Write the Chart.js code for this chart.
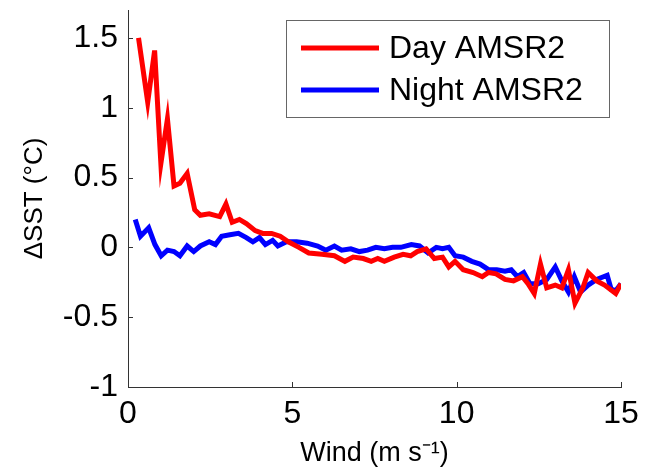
<!DOCTYPE html>
<html>
<head>
<meta charset="utf-8">
<script src="https://cdn.jsdelivr.net/npm/chart.js@4"></script>
<style>
  html, body { margin: 0; padding: 0; background: #fff; }
  #wrap { position: relative; width: 654px; height: 471px; }
</style>
</head>
<body>
<div id="wrap"><canvas id="sst-chart"></canvas></div>
<script>
/* Delta SST vs wind speed, day / night AMSR2 */
const xTicks = [0, 5, 10, 15];
const yTicks = [-1, -0.5, 0, 0.5, 1, 1.5];

const dayWind = [0.32, 0.6, 0.81, 1.0, 1.2, 1.4, 1.58, 1.8, 2.03, 2.2, 2.47, 2.79, 2.98, 3.17, 3.39, 3.6,
  3.87, 4.1, 4.37, 4.63, 4.88, 5.2, 5.5, 5.9, 6.28, 6.6, 6.85, 7.16, 7.4, 7.6, 7.8, 8.1, 8.37, 8.6,
  8.8, 9.07, 9.32, 9.57, 9.76, 9.95, 10.2, 10.5, 10.78, 10.97, 11.2, 11.47, 11.73, 12.0, 12.17, 12.36,
  12.55, 12.74, 13.0, 13.2, 13.4, 13.6, 13.84, 14.0, 14.26, 14.5, 14.84, 15.0];
const dayDelta = [1.5, 1.04, 1.41, 0.6, 0.92, 0.44, 0.46, 0.53, 0.27, 0.23, 0.24, 0.22, 0.31, 0.18, 0.2, 0.17,
  0.12, 0.1, 0.1, 0.08, 0.04, 0.0, -0.04, -0.05, -0.06, -0.1, -0.07, -0.08, -0.1, -0.08, -0.1, -0.07, -0.05, -0.06,
  -0.03, -0.01, -0.08, -0.07, -0.14, -0.1, -0.16, -0.18, -0.21, -0.18, -0.19, -0.23, -0.24, -0.21, -0.26, -0.33,
  -0.12, -0.29, -0.27, -0.29, -0.16, -0.4, -0.29, -0.18, -0.24, -0.27, -0.33, -0.26];

const nightWind = [0.22, 0.38, 0.63, 0.82, 1.01, 1.2, 1.4, 1.58, 1.8, 2.0, 2.2, 2.47, 2.66, 2.85, 3.1, 3.36,
  3.6, 3.8, 4.0, 4.18, 4.4, 4.56, 4.82, 5.13, 5.45, 5.77, 6.02, 6.28, 6.5, 6.78, 7.04, 7.29, 7.54, 7.8,
  8.05, 8.3, 8.62, 8.87, 9.13, 9.38, 9.57, 9.76, 9.95, 10.2, 10.46, 10.71, 10.97, 11.22, 11.47, 11.66,
  11.85, 12.04, 12.23, 12.48, 12.74, 13.0, 13.2, 13.4, 13.58, 13.77, 14.0, 14.26, 14.58, 14.7, 14.84, 15.0];
const nightDelta = [0.2, 0.08, 0.14, 0.02, -0.06, -0.02, -0.03, -0.06, 0.01, -0.03, 0.01, 0.04, 0.02, 0.08, 0.09, 0.1,
  0.07, 0.04, 0.07, 0.02, 0.05, 0.01, 0.04, 0.04, 0.03, 0.01, -0.02, 0.01, -0.02, -0.01, -0.03, -0.02, 0.0, -0.01,
  0.0, 0.0, 0.02, 0.01, -0.04, 0.0, -0.01, 0.0, -0.06, -0.07, -0.1, -0.12, -0.16, -0.16, -0.17, -0.16,
  -0.21, -0.18, -0.26, -0.26, -0.23, -0.14, -0.24, -0.32, -0.21, -0.32, -0.27, -0.23, -0.2, -0.3, -0.31, -0.26];

const FONT = '"Liberation Sans", Arial, Helvetica, sans-serif';

// MATLAB-style ticks pointing into the axes
const innerTicks = {
  id: 'innerTicks',
  afterDraw(chart) {
    const { ctx, chartArea: a, scales: { x, y } } = chart;
    ctx.save();
    ctx.strokeStyle = '#333';
    ctx.lineWidth = 1;
    ctx.beginPath();
    xTicks.forEach(v => {
      const px = Math.round(x.getPixelForValue(v)) + 0.5;
      ctx.moveTo(px, a.bottom); ctx.lineTo(px, a.bottom - 5);
    });
    yTicks.forEach(v => {
      const py = Math.round(y.getPixelForValue(v)) + 0.5;
      ctx.moveTo(a.left, py); ctx.lineTo(a.left + 5, py);
    });
    ctx.stroke();
    ctx.restore();
  }
};

// boxed legend in the upper right
const boxLegend = {
  id: 'boxLegend',
  afterDraw(chart) {
    const ctx = chart.ctx;
    ctx.save();
    ctx.fillStyle = '#fff';
    ctx.fillRect(286, 20, 323, 97);
    ctx.strokeStyle = '#666';
    ctx.lineWidth = 1;
    ctx.strokeRect(286.5, 20.5, 323, 97);
    ctx.font = '32px ' + FONT;
    ctx.textBaseline = 'middle';
    chart.data.datasets.forEach((ds, i) => {
      const yy = 48 + i * 42;
      ctx.strokeStyle = ds.borderColor;
      ctx.lineWidth = 5;
      ctx.beginPath();
      ctx.moveTo(301, yy); ctx.lineTo(379, yy);
      ctx.stroke();
      ctx.fillStyle = '#000';
      ctx.fillText(ds.label, 389, yy + 1);
    });
    ctx.restore();
  }
};

const toPoints = (xs, ys) => xs.map((v, i) => ({ x: v, y: ys[i] }));

new Chart(document.getElementById('sst-chart'), {
  type: 'line',
  data: {
    datasets: [
      { label: 'Day AMSR2', data: toPoints(dayWind, dayDelta), borderColor: '#ff0000', borderWidth: 5, pointRadius: 0, tension: 0 },
      { label: 'Night AMSR2', data: toPoints(nightWind, nightDelta), borderColor: '#0000ff', borderWidth: 5, pointRadius: 0, tension: 0 }
    ]
  },
  options: {
    responsive: true, maintainAspectRatio: false, animation: false,
    layout: { padding: { top: 10, right: 33, left: 0, bottom: 0 } },
    plugins: { legend: { display: false }, tooltip: { enabled: false } },
    scales: {
      x: {
        type: 'linear', min: 0, max: 15,
        afterBuildTicks: s => { s.ticks = xTicks.map(v => ({ value: v })); },
        afterFit: s => { s.height = 84; s.paddingLeft = 0; s.paddingRight = 0; },
        grid: { drawOnChartArea: false, drawTicks: false },
        border: { color: '#333', width: 1 },
        ticks: { color: '#000', padding: 8, maxRotation: 0, font: { family: FONT, size: 32 }, callback: v => String(v) },
        title: { display: true, text: 'Wind (m s\u207B\u00B9)', color: '#000', padding: { top: 0, bottom: 1 }, font: { family: FONT, size: 27 } }
      },
      y: {
        min: -1, max: 1.7,
        afterBuildTicks: s => { s.ticks = yTicks.map(v => ({ value: v })); },
        afterFit: s => { s.width = 128; s.paddingTop = 0; s.paddingBottom = 0; },
        grid: { drawOnChartArea: false, drawTicks: false },
        border: { color: '#333', width: 1 },
        ticks: { color: '#000', padding: 10, font: { family: FONT, size: 32 }, callback: v => String(v) },
        title: { display: true, text: '\u0394SST (\u00B0C)', color: '#000', padding: { top: 19, bottom: 0 }, font: { family: FONT, size: 26 } }
      }
    }
  },
  plugins: [innerTicks, boxLegend]
});
</script>
</body>
</html>
